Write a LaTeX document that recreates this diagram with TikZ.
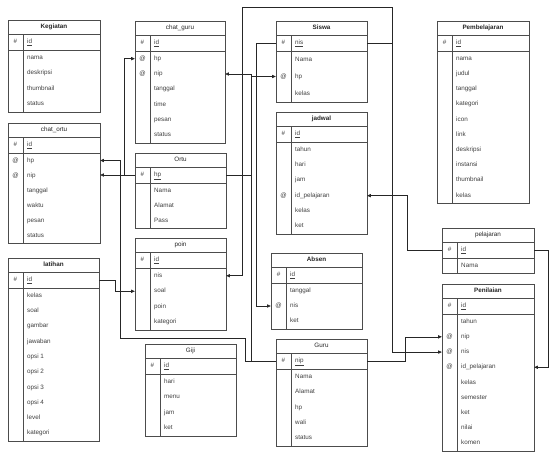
\documentclass[tikz,border=0pt]{standalone}
\usepackage{fontspec}
\setmainfont{Liberation Sans}
\usetikzlibrary{arrows.meta}

\tikzset{
  tblline/.style={draw=black!70, line width=0.6pt},
  celltext/.style={font=\fontsize{6.3}{7}\selectfont, inner sep=0pt,
                   text height=4.6pt, text depth=1.4pt},
  titletext/.style={celltext, text=black!85},
  fieldtext/.style={celltext, text=black!75, anchor=west},
  keytext/.style={celltext, text=black!75},
  rowslot/.style={inner sep=0pt, minimum height=10pt, draw=none},
  fk/.style={draw=black!85, line width=0.6pt,
             -{Triangle[length=3.6pt,width=3.2pt]}},
}

% #1 name, #2 left, #3 right, #4 top, #5 bottom, #6 number of body rows,
% #7 title, #8 primary key field, #9 body rows as key/text/name
\newcommand\ertable[9]{%
  \pgfmathsetmacro\ertmid{(#2+#3)/2}%
  \pgfmathsetmacro\ertw{#3-#2}%
  \pgfmathsetmacro\ertrh{(#5-#4-30)/#6}%
  \draw[tblline] (#2,#4) rectangle (#3,#5);
  \draw[tblline] (#2,#4+14) -- (#3,#4+14);
  \draw[tblline] (#2,#4+30) -- (#3,#4+30);
  \draw[tblline] (#2+15,#4+14) -- (#2+15,#5);
  \node[titletext] (#1) at (\ertmid,#4+7) {#7};
  \node[rowslot, minimum width=\ertw pt] (#1-#8) at (\ertmid,#4+22) {};
  \node[keytext] (#1-#8-key) at (#2+7.5,#4+22) {\#};
  \node[fieldtext] (#1-#8-txt) at (#2+19,#4+22) {\underline{#8}};
  \foreach \k/\f/\n [count=\i] in {#9} {
    \pgfmathsetmacro\erty{#4+30+(\i-0.5)*\ertrh}
    \node[rowslot, minimum width=\ertw pt] (#1-\n) at (\ertmid,\erty) {};
    \node[keytext] (#1-\n-key) at (#2+7.5,\erty) {\k};
    \node[fieldtext] (#1-\n-txt) at (#2+19,\erty) {\f};
  }%
}

\begin{document}
\begin{tikzpicture}[x=1pt, y=-1pt]
\fill[white] (0,0) rectangle (555,453);
\useasboundingbox (0,0) rectangle (555,453);

% ---- tables ----
\ertable{kegiatan}{8}{100}{20}{112}{4}{\textbf{Kegiatan}}{id}%
  {{}/nama/nama, {}/deskripsi/deskripsi, {}/thumbnail/thumbnail, {}/status/status}

\ertable{chatortu}{8}{100}{123}{243}{6}{chat\_ortu}{id}%
  {@/hp/hp, @/nip/nip, {}/tanggal/tanggal, {}/waktu/waktu, {}/pesan/pesan, {}/status/status}

\ertable{latihan}{8}{99}{258}{441}{10}{\textbf{latihan}}{id}%
  {{}/kelas/kelas, {}/soal/soal, {}/gambar/gambar, {}/jawaban/jawaban,
   {}/opsi 1/opsi1, {}/opsi 2/opsi2, {}/opsi 3/opsi3, {}/opsi 4/opsi4,
   {}/level/level, {}/kategori/kategori}

\ertable{chatguru}{135}{225}{21}{143}{6}{chat\_guru}{id}%
  {@/hp/hp, @/nip/nip, {}/tanggal/tanggal, {}/time/time, {}/pesan/pesan, {}/status/status}

\ertable{ortu}{135}{226}{153}{228}{3}{Ortu}{hp}%
  {{}/Nama/nama, {}/Alamat/alamat, {}/Pass/pass}

\ertable{poin}{135}{226}{238}{330}{4}{poin}{id}%
  {{}/nis/nis, {}/soal/soal, {}/poin/poin, {}/kategori/kategori}

\ertable{giji}{145}{236}{344}{436}{4}{Giji}{id}%
  {{}/hari/hari, {}/menu/menu, {}/jam/jam, {}/ket/ket}

\ertable{siswa}{276}{367}{21}{102}{3}{\textbf{Siswa}}{nis}%
  {{}/Nama/nama, @/hp/hp, {}/kelas/kelas}

\ertable{jadwal}{276}{367}{112}{234}{6}{\textbf{jadwal}}{id}%
  {{}/tahun/tahun, {}/hari/hari, {}/jam/jam, @/id\_pelajaran/idpel, {}/kelas/kelas, {}/ket/ket}

\ertable{absen}{271}{362}{253}{329}{3}{\textbf{Absen}}{id}%
  {{}/tanggal/tanggal, @/nis/nis, {}/ket/ket}

\ertable{guru}{276}{367}{339}{446}{5}{Guru}{nip}%
  {{}/Nama/nama, {}/Alamat/alamat, {}/hp/hp, {}/wali/wali, {}/status/status}

\ertable{pembelajaran}{437}{529}{21}{203}{10}{\textbf{Pembelajaran}}{id}%
  {{}/nama/nama, {}/judul/judul, {}/tanggal/tanggal, {}/kategori/kategori, {}/icon/icon,
   {}/link/link, {}/deskripsi/deskripsi, {}/instansi/instansi, {}/thumbnail/thumbnail, {}/kelas/kelas}

\ertable{pelajaran}{442}{534}{228}{273}{1}{pelajaran}{id}%
  {{}/Nama/nama}

\ertable{penilaian}{442}{534}{284}{451}{9}{\textbf{Penilaian}}{id}%
  {{}/tahun/tahun, @/nip/nip, @/nis/nis, @/id\_pelajaran/idpel, {}/kelas/kelas,
   {}/semester/semester, {}/ket/ket, {}/nilai/nilai, {}/komen/komen}

% ---- relations ----
% Siswa.nis
\draw[fk] (siswa-nis.east) -| (392,7) -| ([xshift=16pt]poin-nis.east) -- (poin-nis.east);
\draw[fk] (siswa-nis.east) -- ++(25,0) |- (penilaian-nis.west);
\draw[fk] (siswa-nis.west) -- ++(-20,0) |- (absen-nis.west);
% Guru.nip
\draw[fk] (guru-nip.west) -| ([xshift=26pt]chatguru-nip.east) -- (chatguru-nip.east);
\draw[fk] (guru-nip.west) -- ++(-31,0) -- ++(0,-23) -| ([xshift=20pt]chatortu-hp.east) -- (chatortu-hp.east);
\draw[fk] (guru-nip.east) -- ++(38,0) |- (penilaian-nip.west);
% Ortu.hp
\draw[fk] (ortu-hp.east) -| ([xshift=-25pt]siswa-hp.west) -- (siswa-hp.west);
\draw[fk] (ortu-hp.west) -| ([xshift=-11pt]chatguru-hp.west) -- (chatguru-hp.west);
\draw[fk] (ortu-hp.west) -- (ortu-hp.west -| chatortu-nip.east);
% latihan.id
\draw[fk] (latihan-id.east) -- ++(16,0) |- (poin-soal.west);
% pelajaran.id
\draw[fk] (pelajaran-id.west) -- ++(-35,0) |- (jadwal-idpel.east);
\draw[fk] (pelajaran-id.east) -- ++(14,0) |- (penilaian-idpel.east);
\end{tikzpicture}
\end{document}
